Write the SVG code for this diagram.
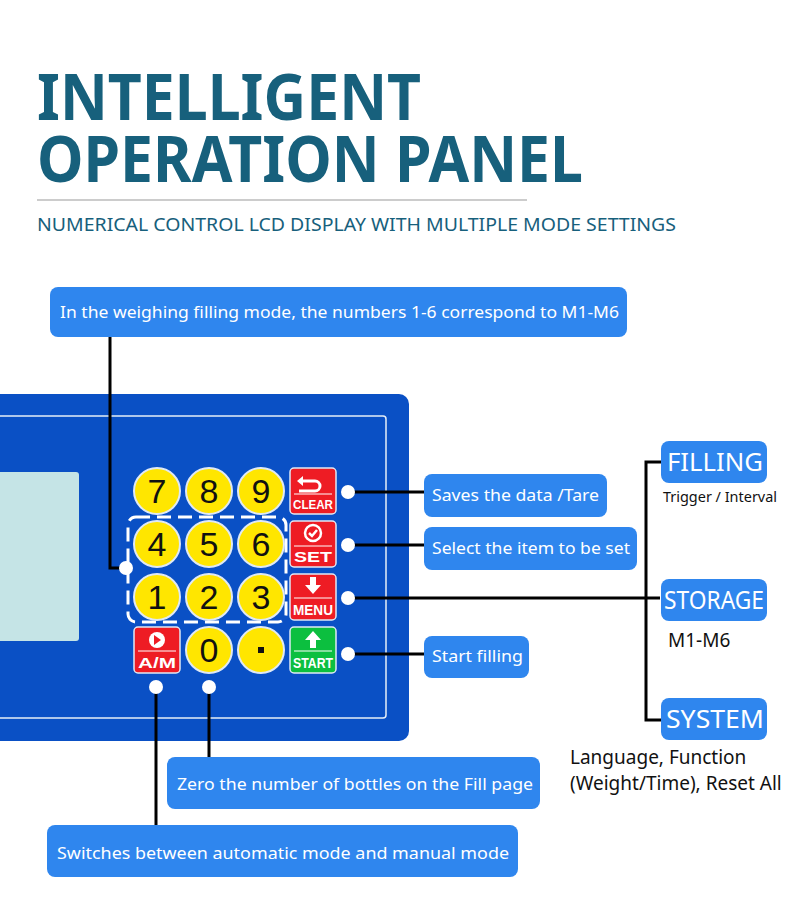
<svg xmlns="http://www.w3.org/2000/svg" width="790" height="906" viewBox="0 0 790 906">
<style>
.lbl{fill:#2f86ee}
.lt{font-family:"Noto Sans",sans-serif;font-size:17px;fill:#fff}
.big{font-family:"Noto Sans",sans-serif;font-size:25px;fill:#fff}
.cap{font-family:"Noto Sans",sans-serif;fill:#111}
.k{fill:#ffe600;stroke:#dfe9f5;stroke-width:2}
.kt{font-family:"Liberation Sans",sans-serif;font-size:34px;fill:#111;text-anchor:middle}
.rb{stroke:#dfe9f5;stroke-width:1.5}
.bt{font-family:"Liberation Sans",sans-serif;font-weight:bold;fill:#fff;text-anchor:middle}
.ln{stroke:#000;stroke-width:3;fill:none}
.dot{fill:#fff}
</style>
<rect width="790" height="906" fill="#fff"/>
<g id="title">
<text x="37" y="120" font-family="Noto Sans,sans-serif" font-weight="bold" font-size="64" fill="#17607c" textLength="384" lengthAdjust="spacingAndGlyphs">INTELLIGENT</text>
<text x="37" y="182" font-family="Noto Sans,sans-serif" font-weight="bold" font-size="64" fill="#17607c" textLength="546" lengthAdjust="spacingAndGlyphs">OPERATION PANEL</text>
<line x1="37" y1="200" x2="527" y2="200" stroke="#bbb" stroke-width="1.5"/>
<text x="37" y="231" font-family="Noto Sans,sans-serif" font-size="18.5" fill="#17607c" textLength="639" lengthAdjust="spacingAndGlyphs">NUMERICAL CONTROL LCD DISPLAY WITH MULTIPLE MODE SETTINGS</text>
</g>
<g id="panel">
<rect x="-20" y="394" width="429" height="347" rx="10" fill="#0a50c5"/>
<rect x="-20" y="416" width="406" height="302" rx="3" fill="none" stroke="#e6eef8" stroke-width="1.5"/>
<rect x="-20" y="472" width="99" height="169" rx="3" fill="#c5e4e6"/>
<rect x="128" y="517" width="158" height="105" rx="8" fill="none" stroke="#fff" stroke-width="3" stroke-dasharray="14,7"/>
</g>
<g id="keys">
<circle class="k" cx="157" cy="491" r="23"/><text class="kt" x="157" y="503">7</text>
<circle class="k" cx="209" cy="491" r="23"/><text class="kt" x="209" y="503">8</text>
<circle class="k" cx="261" cy="491" r="23"/><text class="kt" x="261" y="503">9</text>
<circle class="k" cx="157" cy="544" r="23"/><text class="kt" x="157" y="556">4</text>
<circle class="k" cx="209" cy="544" r="23"/><text class="kt" x="209" y="556">5</text>
<circle class="k" cx="261" cy="544" r="23"/><text class="kt" x="261" y="556">6</text>
<circle class="k" cx="157" cy="597" r="23"/><text class="kt" x="157" y="609">1</text>
<circle class="k" cx="209" cy="597" r="23"/><text class="kt" x="209" y="609">2</text>
<circle class="k" cx="261" cy="597" r="23"/><text class="kt" x="261" y="609">3</text>
<circle class="k" cx="209" cy="650" r="23"/><text class="kt" x="209" y="662">0</text>
<circle class="k" cx="261" cy="650" r="23"/><rect x="258" y="647" width="6" height="6" fill="#111"/>
</g>
<g id="btn-clear"><rect class="rb" x="290" y="468" width="46" height="46" rx="4" fill="#ee1c24"/><path d="M300 481h15a5 5 0 0 1 0 10h-16" stroke="#fff" stroke-width="3" fill="none"/><path d="M297 481l6-5v10z" fill="#fff"/><line x1="294" y1="494" x2="332" y2="494" stroke="#fff"/><text class="bt" x="313" y="509" font-size="13" textLength="40" lengthAdjust="spacingAndGlyphs">CLEAR</text></g>
<g id="btn-set"><rect class="rb" x="290" y="521" width="46" height="46" rx="4" fill="#ee1c24"/><circle cx="313" cy="533" r="8" fill="none" stroke="#fff" stroke-width="2.5"/><path d="M309 533l3 3 5-6" stroke="#fff" stroke-width="2.5" fill="none"/><line x1="294" y1="546" x2="332" y2="546" stroke="#fff"/><text class="bt" x="313" y="562" font-size="15" textLength="38" lengthAdjust="spacingAndGlyphs">SET</text></g>
<g id="btn-menu"><rect class="rb" x="290" y="574" width="46" height="46" rx="4" fill="#ee1c24"/><path d="M310 577h6v8h5l-8 9-8-9h5z" fill="#fff"/><line x1="294" y1="598" x2="332" y2="598" stroke="#fff"/><text class="bt" x="313" y="615" font-size="14" textLength="40" lengthAdjust="spacingAndGlyphs">MENU</text></g>
<g id="btn-start"><rect class="rb" x="290" y="627" width="46" height="46" rx="4" fill="#0cbf3f"/><path d="M313 631l8 9h-5v8h-6v-8h-5z" fill="#fff"/><line x1="294" y1="651" x2="332" y2="651" stroke="#fff"/><text class="bt" x="313" y="668" font-size="14" textLength="40" lengthAdjust="spacingAndGlyphs">START</text></g>
<g id="btn-am"><rect class="rb" x="134" y="627" width="46" height="46" rx="4" fill="#ee1c24"/><circle cx="157" cy="640" r="8" fill="#fff"/><path d="M154 635l7 5-7 5z" fill="#ee1c24"/><line x1="138" y1="651" x2="176" y2="651" stroke="#fff"/><text class="bt" x="157" y="668" font-size="14" textLength="38" lengthAdjust="spacingAndGlyphs">A/M</text></g>
<g id="connectors">
<polyline class="ln" points="110,337 110,568 126,568"/>
<line class="ln" x1="348" y1="492" x2="424" y2="492"/>
<line class="ln" x1="348" y1="545" x2="424" y2="545"/>
<line class="ln" x1="348" y1="598" x2="660" y2="598"/>
<line class="ln" x1="348" y1="654" x2="424" y2="654"/>
<polyline class="ln" points="661,462 646,462 646,720 661,720"/>
<line class="ln" x1="209" y1="687" x2="209" y2="757"/>
<line class="ln" x1="156" y1="687" x2="156" y2="825"/>
<circle class="dot" cx="126" cy="568" r="7"/>
<circle class="dot" cx="348" cy="492" r="7"/>
<circle class="dot" cx="348" cy="545" r="7"/>
<circle class="dot" cx="348" cy="598" r="7"/>
<circle class="dot" cx="348" cy="654" r="7"/>
<circle class="dot" cx="156" cy="687" r="7"/>
<circle class="dot" cx="209" cy="687" r="7"/>
</g>
<g id="n-top"><rect class="lbl" x="50" y="287" width="577" height="50" rx="8"/><text class="lt" x="60" y="318" textLength="559" lengthAdjust="spacingAndGlyphs">In the weighing filling mode, the numbers 1-6 correspond to M1-M6</text></g>
<g id="n-saves"><rect class="lbl" x="424" y="474" width="183" height="43" rx="8"/><text class="lt" x="432" y="501" textLength="167" lengthAdjust="spacingAndGlyphs">Saves the data /Tare</text></g>
<g id="n-select"><rect class="lbl" x="424" y="527" width="213" height="43" rx="8"/><text class="lt" x="432" y="554" textLength="198" lengthAdjust="spacingAndGlyphs">Select the item to be set</text></g>
<g id="n-start"><rect class="lbl" x="424" y="636" width="105" height="42" rx="8"/><text class="lt" x="432" y="662" textLength="91" lengthAdjust="spacingAndGlyphs">Start filling</text></g>
<g id="n-zero"><rect class="lbl" x="167" y="757" width="373" height="52" rx="8"/><text class="lt" x="177" y="790" textLength="356" lengthAdjust="spacingAndGlyphs">Zero the number of bottles on the Fill page</text></g>
<g id="n-switch"><rect class="lbl" x="47" y="825" width="471" height="52" rx="8"/><text class="lt" x="57" y="859" textLength="452" lengthAdjust="spacingAndGlyphs">Switches between automatic mode and manual mode</text></g>
<g id="n-filling"><rect class="lbl" x="661" y="441" width="106" height="42" rx="8"/><text class="big" x="667" y="471" textLength="96" lengthAdjust="spacingAndGlyphs">FILLING</text><text class="cap" x="663" y="502" font-size="14" textLength="114" lengthAdjust="spacingAndGlyphs">Trigger / Interval</text></g>
<g id="n-storage"><rect class="lbl" x="661" y="579" width="106" height="42" rx="8"/><text class="big" x="664" y="609" textLength="100" lengthAdjust="spacingAndGlyphs">STORAGE</text><text class="cap" x="668" y="647" font-size="19">M1-M6</text></g>
<g id="n-system"><rect class="lbl" x="661" y="698" width="106" height="42" rx="8"/><text class="big" x="666" y="728" textLength="98" lengthAdjust="spacingAndGlyphs">SYSTEM</text><text class="cap" x="570" y="764" font-size="19">Language, Function</text><text class="cap" x="570" y="790" font-size="19">(Weight/Time), Reset All</text></g>
</svg>
